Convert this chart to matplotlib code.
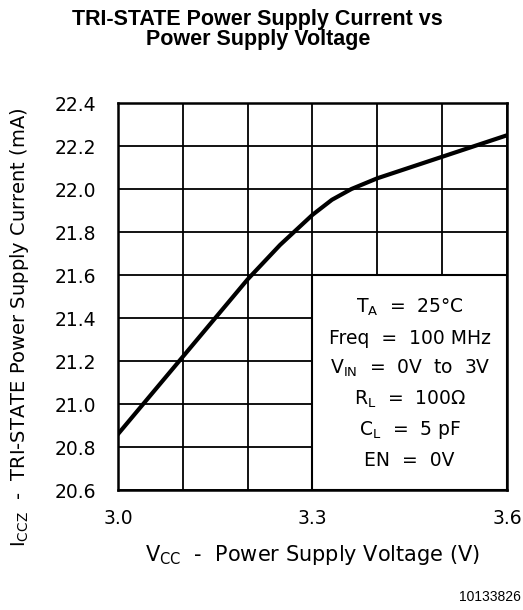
import matplotlib.pyplot as plt
from matplotlib.patches import Rectangle
from matplotlib.ticker import MultipleLocator

# Curve
vcc = [3.00, 3.05, 3.10, 3.15, 3.20, 3.25, 3.30, 3.33, 3.36, 3.40, 3.45, 3.50, 3.55, 3.60]
iccz = [20.86, 21.04, 21.22, 21.40, 21.58, 21.74, 21.88, 21.95, 22.00, 22.05, 22.10, 22.15, 22.20, 22.25]

x_ticks = [3.0, 3.3, 3.6]
y_ticks = [20.6, 20.8, 21.0, 21.2, 21.4, 21.6, 21.8, 22.0, 22.2, 22.4]

conditions = [
    r'$\mathregular{T_A}$  =  25°C',
    'Freq  =  100 MHz',
    r'$\mathregular{V_{IN}}$  =  0V  to  3V',
    r'$\mathregular{R_L}$  =  100Ω',
    r'$\mathregular{C_L}$  =  5 pF',
    'EN  =  0V',
]

plt.rcParams['font.family'] = ['DejaVu Sans']

fig = plt.figure(figsize=(5.23, 6.10), dpi=100)
ax = fig.add_axes([0.2256, 0.1967, 0.7438, 0.6344])

ax.plot(vcc, iccz, color='black', linewidth=3.0, zorder=4)

ax.set_xlim(3.0, 3.6)
ax.set_ylim(20.6, 22.4)
ax.set_xticks(x_ticks)
ax.set_xticklabels([f'{v:.1f}' for v in x_ticks])
ax.xaxis.set_minor_locator(MultipleLocator(0.1))
ax.set_yticks(y_ticks)
ax.set_yticklabels([f'{v:.1f}' for v in y_ticks])
ax.tick_params(which='both', length=0)
ax.tick_params(axis='x', pad=14, labelsize=13.5)
ax.tick_params(axis='y', pad=16, labelsize=13.5)
ax.grid(True, which='both', color='black', linewidth=1.3, zorder=1)
ax.set_axisbelow(True)
for s in ax.spines.values():
    s.set_linewidth(1.8)

# condition box hides the grid in the lower right
ax.add_patch(Rectangle((3.3, 20.6), 0.3, 1.0, facecolor='white', edgecolor='black',
                       linewidth=1.5, zorder=2))
for i, line in enumerate(conditions):
    ax.text(3.45, 21.45 - i * 0.143, line, ha='center', va='center', fontsize=13.5, zorder=3)

ax.set_xlabel(r'$\mathregular{V_{CC}}$  -  Power Supply Voltage (V)', fontsize=15, va='center')
ax.xaxis.set_label_coords(0.5, -0.168)
ax.set_ylabel(r'$\mathregular{I_{CCZ}}$  -  TRI-STATE Power Supply Current (mA)', fontsize=14,
              va='center')
ax.yaxis.set_label_coords(-0.252, 0.42)

fig.text(0.493, 0.985, 'TRI-STATE Power Supply Current vs\nPower Supply Voltage',
         ha='center', va='top', fontsize=15.5, fontweight='bold', family='Liberation Sans',
         linespacing=0.95)
fig.text(0.995, 0.021, '10133826', ha='right', va='center', fontsize=10, family='Liberation Sans')

fig.savefig('out.png', dpi=100)
